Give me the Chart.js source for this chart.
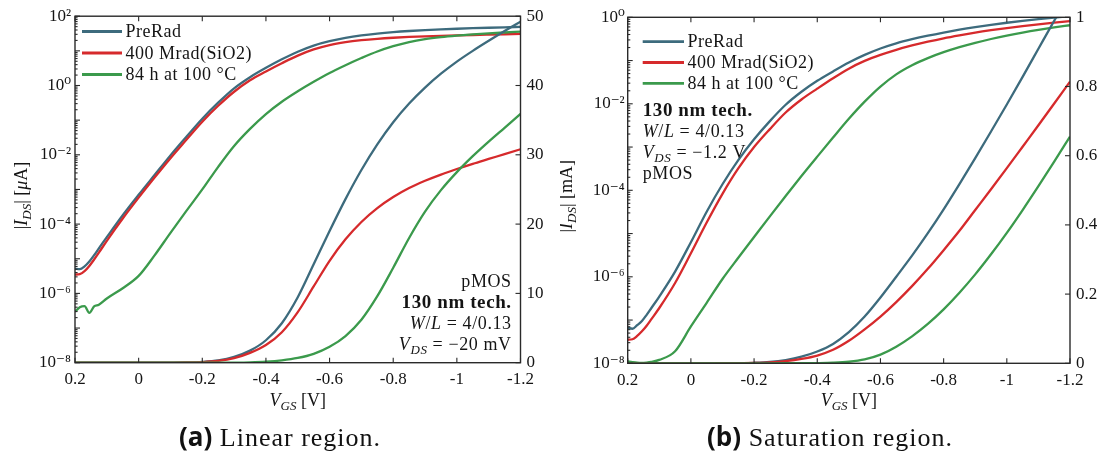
<!DOCTYPE html>
<html>
<head>
<meta charset="utf-8">
<script src="https://cdn.jsdelivr.net/npm/chart.js@4.4.1/dist/chart.umd.min.js"></script>
<style>
  html, body { margin: 0; padding: 0; background: #fff; }
  #wrap { position: relative; width: 1104px; height: 458px; overflow: hidden; }
  canvas { position: absolute; top: 0; }
  #ca { left: 0; width: 560px; height: 458px; }
  #cb { left: 560px; width: 544px; height: 458px; }
  .cap { position: absolute; top: 421px; text-align: center; font: 26px 'Liberation Serif', serif;
         letter-spacing: 1px; color: #111; white-space: nowrap; line-height: 30px; }
  .cap b { font-family: 'Open Sans', sans-serif; font-weight: 700; letter-spacing: 0; }
</style>
</head>
<body>
<div id="wrap">
  <canvas id="ca" width="560" height="458"></canvas>
  <canvas id="cb" width="544" height="458"></canvas>
  <div class="cap" style="left:0;width:560px"><b>(a)</b> Linear region.</div>
  <div class="cap" style="left:560px;width:540px"><b>(b)</b> Saturation region.</div>
</div>
<script>
// Gate-source voltage sweep [V]
const vgs = [0.2, 0.185, 0.17, 0.155, 0.14, 0.125, 0.1, 0.05, 0, -0.05, -0.1, -0.15, -0.2, -0.25, -0.3,
  -0.35, -0.4, -0.45, -0.5, -0.55, -0.6, -0.65, -0.7, -0.75, -0.8, -0.85, -0.9, -0.95, -1.0,
  -1.05, -1.1, -1.15, -1.2];

const seriesNames = ['PreRad', '400 Mrad(SiO2)', '84 h at 100 °C'];
const seriesColors = ['#3d6b7d', '#d62a2c', '#3b9a4c'];

// Linear region, V_DS = -20 mV, |I_DS| in µA
const linPreRad = [5.2e-6, 5.0e-6, 6.0e-6, 8.3e-6, 1.26e-5, 2.0e-5, 4.2e-5, 1.8e-4, 7.0e-4, 2.6e-3,
  9.6e-3, 3.3e-2, 0.11, 0.32, 0.83, 1.74, 3.24, 5.7, 9.44, 14.2, 19.0, 23.6, 27.8, 31.5, 34.7,
  37.4, 39.7, 41.7, 43.45, 45.0, 46.45, 47.85, 49.2];
const linRad = [3.5e-6, 3.6e-6, 4.4e-6, 6.2e-6, 9.5e-6, 1.5e-5, 3.3e-5, 1.45e-4, 5.8e-4, 2.2e-3,
  8.0e-3, 2.7e-2, 9.0e-2, 0.26, 0.66, 1.42, 2.55, 4.4, 7.3, 11.0, 14.7, 17.8, 20.3, 22.3, 23.9,
  25.2, 26.25, 27.15, 27.95, 28.7, 29.4, 30.1, 30.8];
const linAnneal = [2.95e-7, 4.0e-7, 4.3e-7, 2.75e-7, 4.2e-7, 4.7e-7, 7.1e-7, 1.41e-6, 3.2e-6, 1.25e-5,
  5.6e-5, 2.4e-4, 1.0e-3, 4.5e-3, 1.8e-2, 5.6e-2, 0.15, 0.34, 0.68, 1.28, 2.3, 3.85, 6.2, 9.6, 13.7,
  18.0, 21.8, 24.9, 27.5, 29.8, 31.9, 33.9, 35.9];

// Saturation region, V_DS = -1.2 V, |I_DS| in mA
const satPreRad = [6.6e-8, 6.3e-8, 7.6e-8, 9.5e-8, 1.32e-7, 1.9e-7, 3.5e-7, 1.32e-6, 6.3e-6, 3.2e-5,
  1.38e-4, 5.0e-4, 1.51e-3, 3.98e-3, 9.5e-3, 1.9e-2, 3.4e-2, 5.6e-2, 0.090, 0.135, 0.190, 0.250,
  0.311, 0.376, 0.445, 0.518, 0.593, 0.670, 0.748, 0.828, 0.909, 0.990, 1.07];
const satRad = [3.5e-8, 3.6e-8, 4.3e-8, 5.5e-8, 7.4e-8, 1.05e-7, 1.9e-7, 7.2e-7, 3.5e-6, 1.8e-5,
  8.3e-5, 3.2e-4, 1.0e-3, 2.6e-3, 6.3e-3, 1.26e-2, 2.24e-2, 3.9e-2, 0.065, 0.098, 0.135, 0.177,
  0.223, 0.273, 0.327, 0.383, 0.443, 0.503, 0.564, 0.626, 0.688, 0.751, 0.814];
const satAnneal = [1.1e-8, 1.06e-8, 1.03e-8, 1.02e-8, 1.04e-8, 1.08e-8, 1.2e-8, 1.9e-8, 7.1e-8, 2.5e-7,
  8.9e-7, 2.75e-6, 8.3e-6, 2.5e-5, 7.4e-5, 2.14e-4, 6.0e-4, 1.66e-3, 4.5e-3, 1.12e-2, 0.025, 0.048,
  0.078, 0.114, 0.156, 0.204, 0.257, 0.315, 0.377, 0.443, 0.512, 0.583, 0.655];

// Tick values
const vgsTicks = [0.2, 0, -0.2, -0.4, -0.6, -0.8, -1, -1.2];
const logTicksA = [1e-8, 1e-6, 1e-4, 1e-2, 1, 1e2];
const linTicksA = [0, 10, 20, 30, 40, 50];
const logTicksB = [1e-8, 1e-6, 1e-4, 1e-2, 1];
const linTicksB = [0, 0.2, 0.4, 0.6, 0.8, 1];

const SERIF = "'Liberation Serif', 'DejaVu Serif', serif";
const INK = '#141414';
const F_REG = '18px ' + SERIF;
const F_IT = 'italic 18px ' + SERIF;
const F_SUB = 'italic 13px ' + SERIF;
const F_BOLD = 'bold 19px ' + SERIF;

const SUP = { '-': '\u207B', '0': '\u2070', '1': '\u00B9', '2': '\u00B2', '3': '\u00B3', '4': '\u2074',
  '5': '\u2075', '6': '\u2076', '7': '\u2077', '8': '\u2078', '9': '\u2079' };
const fmtPow = v => '10' + String(Math.round(Math.log10(v))).split('').map(c => SUP[c]).join('');
const fmtDec = v => { const r = Math.round(v * 10) / 10; return r === 0 ? '0' : String(r); };

// Draws a run of differently styled text pieces on one baseline
function drawRuns(ctx, runs, x, y, align, spacing) {
  ctx.save();
  ctx.letterSpacing = spacing || '0px';
  ctx.textAlign = 'left';
  ctx.textBaseline = 'alphabetic';
  ctx.fillStyle = INK;
  let w = 0;
  runs.forEach(r => { ctx.font = r[1]; w += ctx.measureText(r[0]).width; });
  let cx = align === 'right' ? x - w : align === 'center' ? x - w / 2 : x;
  runs.forEach(r => {
    ctx.font = r[1];
    ctx.fillText(r[0], cx, y + (r[2] || 0));
    cx += ctx.measureText(r[0]).width;
  });
  ctx.restore();
}

function seg(ctx, x0, y0, x1, y1) {
  ctx.beginPath(); ctx.moveTo(x0, y0); ctx.lineTo(x1, y1); ctx.stroke();
}

function makePanel(id, cfg) {
  const canvas = document.getElementById(id);
  const W = canvas.width, H = canvas.height, A = cfg.area;
  const datasets = [];
  cfg.series.forEach((vals, i) => datasets.push({
    label: seriesNames[i], yAxisID: 'yLog', borderColor: seriesColors[i], order: 10 - i,
    data: vgs.map((v, j) => ({ x: v, y: vals[j] }))
  }));
  cfg.series.forEach((vals, i) => datasets.push({
    label: seriesNames[i], yAxisID: 'yLin', borderColor: seriesColors[i], order: 5 - i,
    data: vgs.map((v, j) => ({ x: v, y: vals[j] }))
  }));

  const tickFont = { family: SERIF, size: 17 };
  const noGrid = { display: false, drawTicks: false };
  const noBorder = { display: false };

  const decorations = {
    id: 'decorations',
    afterDatasetsDraw(chart) {
      const { ctx, chartArea: a, scales } = chart;
      ctx.save();
      // frame
      ctx.strokeStyle = '#2a2a2a';
      ctx.lineWidth = 1.4;
      ctx.strokeRect(a.left, a.top, a.right - a.left, a.bottom - a.top);
      // inward ticks
      ctx.lineWidth = 1.1;
      vgsTicks.forEach(v => {
        const px = scales.x.getPixelForValue(v);
        seg(ctx, px, a.bottom, px, a.bottom - 5);
        seg(ctx, px, a.top, px, a.top + 5);
      });
      cfg.linTicks.forEach(v => {
        const py = scales.yLin.getPixelForValue(v);
        seg(ctx, a.right, py, a.right - 5, py);
      });
      const e0 = Math.round(Math.log10(cfg.logMin)), e1 = Math.round(Math.log10(cfg.logMax));
      for (let e = e0; e <= e1; e++) {
        for (let k = 1; k <= 9; k++) {
          if (e === e1 && k > 1) break;
          const py = scales.yLog.getPixelForValue(k * Math.pow(10, e));
          seg(ctx, a.left, py, a.left + (k === 1 ? 5 : 2.6), py);
        }
      }
      ctx.restore();

      // legend
      seriesNames.forEach((name, i) => {
        const y = cfg.legend.rows[i];
        ctx.save();
        ctx.strokeStyle = seriesColors[i];
        ctx.lineWidth = 2.8;
        seg(ctx, cfg.legend.x0, y, cfg.legend.x1, y);
        ctx.restore();
        drawRuns(ctx, [[name, F_REG]], cfg.legend.x1 + 3.5, y + 5.5, 'left', '0.5px');
      });

      // device annotation
      cfg.notes.forEach(n => drawRuns(ctx, n.runs, cfg.noteX, n.y, cfg.noteAlign, '0.6px'));

      // axis titles
      drawRuns(ctx, [['V', F_IT], ['GS', F_SUB, 4], [' [V]', F_REG]], (a.left + a.right) / 2, 406, 'center');
      ctx.save();
      ctx.translate(cfg.yTitleX, (a.top + a.bottom) / 2 + 6);
      ctx.rotate(-Math.PI / 2);
      drawRuns(ctx, [['|', F_REG], ['I', F_IT], ['DS', F_SUB, 4], ['| [', F_REG], cfg.unit[0], cfg.unit[1]], 0, 0, 'center');
      ctx.restore();
    }
  };

  return new Chart(canvas, {
    type: 'line',
    data: { datasets },
    plugins: [decorations],
    options: {
      responsive: false,
      animation: false,
      devicePixelRatio: 1,
      layout: { padding: 0 },
      plugins: { legend: { display: false }, tooltip: { enabled: false } },
      elements: {
        point: { radius: 0 },
        line: { borderWidth: 2.3, cubicInterpolationMode: 'monotone', fill: false }
      },
      scales: {
        x: {
          type: 'linear', position: 'bottom', reverse: true, min: -1.2, max: 0.2,
          afterBuildTicks: s => { s.ticks = vgsTicks.map(v => ({ value: v })); },
          afterFit: s => { s.height = H - A.bottom; },
          grid: noGrid, border: noBorder,
          ticks: { font: tickFont, color: INK, padding: 7, maxRotation: 0, autoSkip: false, callback: v => fmtDec(v) }
        },
        xTop: {
          type: 'linear', position: 'top', reverse: true, min: -1.2, max: 0.2,
          afterFit: s => { s.height = A.top; },
          grid: noGrid, border: noBorder, ticks: { display: false }
        },
        yLog: {
          type: 'logarithmic', position: 'left', min: cfg.logMin, max: cfg.logMax,
          afterBuildTicks: s => { s.ticks = cfg.logTicks.map(v => ({ value: v })); },
          afterFit: s => { s.width = A.left; },
          grid: noGrid, border: noBorder,
          ticks: { font: tickFont, color: INK, padding: cfg.logPad, autoSkip: false, callback: v => fmtPow(v) }
        },
        yLin: {
          type: 'linear', position: 'right', min: 0, max: cfg.linTicks[cfg.linTicks.length - 1],
          afterBuildTicks: s => { s.ticks = cfg.linTicks.map(v => ({ value: v })); },
          afterFit: s => { s.width = W - A.right; },
          grid: noGrid, border: noBorder,
          ticks: { font: tickFont, color: INK, padding: 6, autoSkip: false, callback: v => fmtDec(v) }
        }
      }
    }
  });
}

makePanel('ca', {
  area: { left: 75, right: 520.5, top: 15, bottom: 362.7 },
  series: [linPreRad, linRad, linAnneal],
  logMin: 1e-8, logMax: 1e2, logTicks: logTicksA, linTicks: linTicksA, logPad: 4,
  legend: { x0: 82, x1: 122, rows: [31.5, 53, 74.5] },
  noteX: 511.7, noteAlign: 'right',
  notes: [
    { y: 287, runs: [['pMOS', F_REG]] },
    { y: 308, runs: [['130 nm tech.', F_BOLD]] },
    { y: 329, runs: [['W', F_IT], ['/', F_REG], ['L', F_IT], [' = 4/0.13', F_REG]] },
    { y: 349.5, runs: [['V', F_IT], ['DS', F_SUB, 4], [' = \u221220 mV', F_REG]] }
  ],
  yTitleX: 27, unit: [['\u03BC', F_IT], ['A]', F_REG]]
});

makePanel('cb', {
  area: { left: 67.7, right: 510, top: 17.3, bottom: 363.3 },
  series: [satPreRad, satRad, satAnneal],
  logMin: 1e-8, logMax: 1, logTicks: logTicksB, linTicks: linTicksB, logPad: 3,
  legend: { x0: 82.7, x1: 124, rows: [41.7, 62.5, 83.3] },
  noteX: 82.7, noteAlign: 'left',
  notes: [
    { y: 115.5, runs: [['130 nm tech.', F_BOLD]] },
    { y: 137, runs: [['W', F_IT], ['/', F_REG], ['L', F_IT], [' = 4/0.13', F_REG]] },
    { y: 158, runs: [['V', F_IT], ['DS', F_SUB, 4], [' = \u22121.2 V', F_REG]] },
    { y: 179, runs: [['pMOS', F_REG]] }
  ],
  yTitleX: 12, unit: [['mA]', F_REG], ['', F_REG]]
});
</script>
</body>
</html>
